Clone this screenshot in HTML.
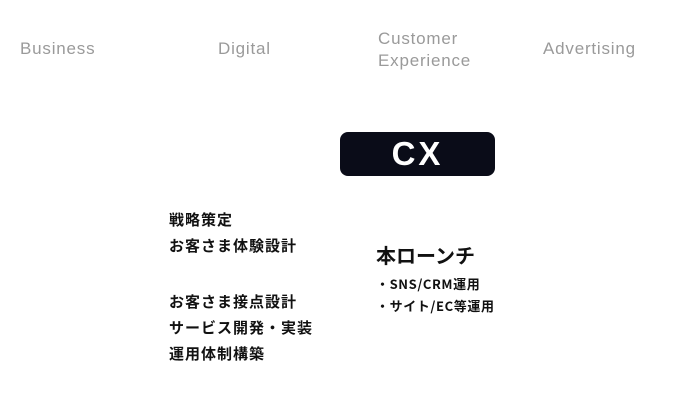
<!DOCTYPE html>
<html><head><meta charset="utf-8"><style>
body{margin:0;width:690px;height:411px;background:#fff;position:relative;overflow:hidden;font-family:"Liberation Sans","Noto Sans CJK JP",sans-serif}
.h{position:absolute;color:#9a9a9a;font-size:17px;line-height:22px;white-space:nowrap;letter-spacing:0.8px}
.t{position:absolute;color:#111;font-weight:bold;font-size:15px;line-height:20px;white-space:nowrap;letter-spacing:1px;font-family:"Noto Sans CJK JP",sans-serif}
.s{position:absolute;color:#111;font-weight:bold;font-size:13px;line-height:18px;white-space:nowrap;letter-spacing:0.6px;font-family:"Noto Sans CJK JP",sans-serif}
#cx{position:absolute;left:340px;top:132px;width:155px;height:44px;background:#0a0c18;border-radius:8px;color:#fff;font-weight:bold;font-size:33px;line-height:44px;text-align:center;letter-spacing:3px}
</style></head><body>
<div class="h" style="left:20px;top:38px">Business</div>
<div class="h" style="left:218px;top:38px">Digital</div>
<div class="h" style="left:378px;top:28px">Customer<br>Experience</div>
<div class="h" style="left:543px;top:38px">Advertising</div>
<div id="cx">CX</div>
<div class="t" style="left:169px;top:210px">戦略策定</div>
<div class="t" style="left:169px;top:236px">お客さま体験設計</div>
<div class="t" style="left:169px;top:292px">お客さま接点設計</div>
<div class="t" style="left:169px;top:318px">サービス開発・実装</div>
<div class="t" style="left:169px;top:344px">運用体制構築</div>
<div class="t" style="left:376px;top:241px;font-size:20px;line-height:28px;letter-spacing:0">本ローンチ</div>
<div class="s" style="left:376px;top:275px">・SNS/CRM運用</div>
<div class="s" style="left:376px;top:297px">・サイト/EC等運用</div>
</body></html>
